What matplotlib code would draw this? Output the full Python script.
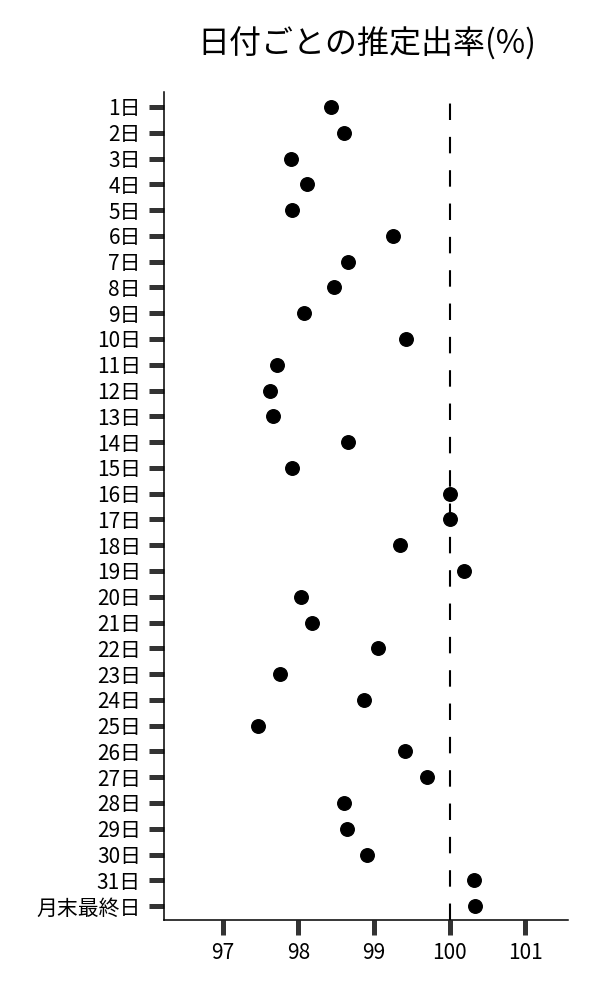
import numpy as np
import matplotlib
matplotlib.use("Agg")
import matplotlib.pyplot as plt

plt.rcParams['font.family'] = ['Noto Sans CJK JP', 'DejaVu Sans']

# 日付ラベル
days = [str(d) + "日" for d in range(1, 32)] + ["月末最終日"]

# 推定出率(%)
rates = [98.43, 98.60, 97.90, 98.11, 97.92, 99.25, 98.66, 98.47, 98.08, 99.42,
         97.72, 97.63, 97.67, 98.66, 97.92, 100.00, 100.00, 99.35, 100.19, 98.03,
         98.18, 99.05, 97.76, 98.87, 97.47, 99.41, 99.70, 98.61, 98.64, 98.91,
         100.32, 100.34]

xticks = [97, 98, 99, 100, 101]
ref_line = 100

fig = plt.figure(figsize=(6, 10), dpi=100)
ax = fig.add_axes([0.273, 0.08, 0.674, 0.828])

pos = np.arange(len(days))
ax.scatter(rates, pos, s=95, color='black', zorder=3)
ax.axvline(ref_line, ymin=0, ymax=1, color='black', lw=1.5,
           linestyle=(0, (7.9, 8.1)), zorder=2)

ax.set_yticks(pos)
ax.set_yticklabels(days)
ax.set_xticks(xticks)
ax.set_xticklabels([str(v) for v in xticks])
ax.set_xlim(96.22, 101.57)
ax.set_ylim(31.54, -0.58)

for s in ['top', 'right']:
    ax.spines[s].set_visible(False)
for s in ['left', 'bottom']:
    ax.spines[s].set_linewidth(1.1)
    ax.spines[s].set_color('black')

ax.tick_params(axis='both', length=10.5, width=3.6, color='#333333', labelsize=15)
ax.tick_params(axis='y', pad=6)
ax.tick_params(axis='x', pad=5)

fig.text(0.611, 0.956, "日付ごとの推定出率(%)", fontsize=23, ha='center', va='center')

fig.savefig("out.png", dpi=100)
